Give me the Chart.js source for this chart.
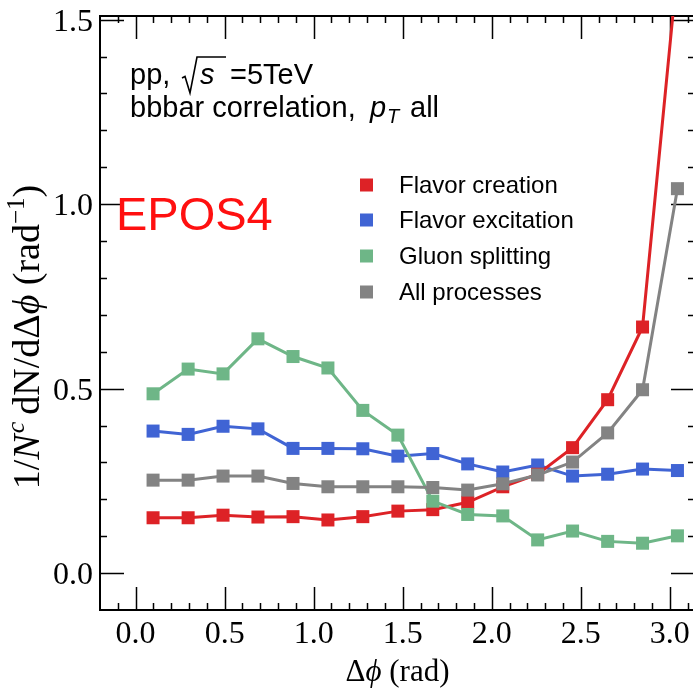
<!DOCTYPE html>
<html lang="en">
<head>
<meta charset="UTF-8">
<title>bbbar correlation, EPOS4</title>
<script src="https://cdn.jsdelivr.net/npm/chart.js"></script>
<style>
  html, body { margin: 0; padding: 0; background: #fff; overflow: hidden; }
  canvas { display: block; }
</style>
</head>
<body>
<canvas id="corrChart" width="697" height="689"></canvas>
<script>
// delta-phi bin centres (rad)
const dphi = [0.098, 0.295, 0.491, 0.687, 0.884, 1.080, 1.276, 1.473,
              1.669, 1.865, 2.062, 2.258, 2.454, 2.651, 2.847, 3.043];

const flavorCreation   = [0.150, 0.150, 0.157, 0.152, 0.153, 0.144, 0.153, 0.168,
                          0.172, 0.192, 0.234, 0.268, 0.340, 0.470, 0.667, 1.640];
const flavorExcitation = [0.385, 0.376, 0.398, 0.391, 0.338, 0.338, 0.337, 0.317,
                          0.324, 0.296, 0.274, 0.293, 0.263, 0.268, 0.282, 0.278];
const gluonSplitting   = [0.486, 0.553, 0.540, 0.635, 0.587, 0.556, 0.441, 0.374,
                          0.195, 0.159, 0.155, 0.090, 0.114, 0.086, 0.081, 0.101];
const allProcesses     = [0.252, 0.252, 0.263, 0.263, 0.243, 0.234, 0.234, 0.234,
                          0.232, 0.225, 0.242, 0.266, 0.301, 0.380, 0.497, 1.042];

const seriesNames = ['Flavor creation', 'Flavor excitation', 'Gluon splitting', 'All processes'];
const seriesColors = ['#dd2226', '#4064d4', '#6eb687', '#838383'];
const seriesValues = [flavorCreation, flavorExcitation, gluonSplitting, allProcesses];
const drawOrder = [2, 3, 1, 0];

const xTickValues = [0, 0.5, 1, 1.5, 2, 2.5, 3];
const xTickLabels = ['0.0', '0.5', '1.0', '1.5', '2.0', '2.5', '3.0'];
const yTickValues = [0, 0.5, 1, 1.5];
const yTickLabels = ['0.0', '0.5', '1.0', '1.5'];

const SERIF = '"Liberation Serif", "DejaVu Serif", serif';
const SANS = '"Liberation Sans", Arial, sans-serif';

// draws consecutive text pieces, returns the x where the run ends
function textRun(ctx, parts, x, y) {
  for (const p of parts) {
    ctx.font = p.font;
    ctx.fillText(p.t, x, y + (p.dy || 0));
    x += ctx.measureText(p.t).width + (p.gap || 0);
  }
  return x;
}
function runWidth(ctx, parts) {
  let w = 0;
  for (const p of parts) { ctx.font = p.font; w += ctx.measureText(p.t).width + (p.gap || 0); }
  return w;
}

// frame with inward ticks on all four sides, plus tick labels
const frameTicks = {
  id: 'frameTicks',
  beforeDatasetsDraw(chart) {
    const { ctx, chartArea: a, scales: { x, y } } = chart;
    ctx.save();
    ctx.strokeStyle = '#000';
    ctx.lineWidth = 1.5;
    ctx.beginPath();
    for (let i = -1; i <= 31; i++) {
      const px = Math.round(x.getPixelForValue(i / 10)) + 0.5;
      const len = i % 5 === 0 ? 23 : 7;
      ctx.moveTo(px, a.bottom); ctx.lineTo(px, a.bottom - len);
      ctx.moveTo(px, a.top); ctx.lineTo(px, a.top + len);
    }
    for (let i = 0; i <= 15; i++) {
      const py = Math.round(y.getPixelForValue(i / 10)) + 0.5;
      const len = i % 5 === 0 ? 24 : 7;
      ctx.moveTo(a.left, py); ctx.lineTo(a.left + len, py);
      ctx.moveTo(a.right, py); ctx.lineTo(a.right - len, py);
    }
    ctx.stroke();
    ctx.lineWidth = 2;
    ctx.strokeRect(a.left, a.top, a.right - a.left, a.bottom - a.top);

    ctx.fillStyle = '#000';
    ctx.font = '32px ' + SERIF;
    ctx.textBaseline = 'alphabetic';
    ctx.textAlign = 'center';
    xTickValues.forEach((v, i) => ctx.fillText(xTickLabels[i], x.getPixelForValue(v), 643));
    ctx.textAlign = 'right';
    yTickValues.forEach((v, i) => ctx.fillText(yTickLabels[i], a.left - 7, y.getPixelForValue(v) + 11));
    ctx.restore();
  }
};

// legend, labels and axis titles
const annotations = {
  id: 'annotations',
  afterDraw(chart) {
    const { ctx, chartArea: a } = chart;
    ctx.save();
    ctx.fillStyle = '#000';
    ctx.strokeStyle = '#000';
    ctx.textBaseline = 'alphabetic';
    ctx.textAlign = 'left';

    // legend
    const rowY = [185, 220, 256, 292];
    chart.data.datasets.forEach((ds, i) => {
      ctx.fillStyle = ds.borderColor;
      ctx.fillRect(360, rowY[i] - 6.5, 13, 13);
      ctx.fillStyle = '#000';
      ctx.font = '24px ' + SANS;
      ctx.fillText(ds.label, 399, rowY[i] + 8);
    });

    // collision system
    const sans = '29px ' + SANS, sansIt = 'italic 29px ' + SANS;
    ctx.font = sans;
    ctx.fillText('pp,', 130, 84);
    ctx.lineWidth = 1.6;
    ctx.beginPath();
    ctx.moveTo(182, 78); ctx.lineTo(185, 76.5); ctx.lineTo(190, 93);
    ctx.lineTo(197, 57); ctx.lineTo(226, 57);
    ctx.stroke();
    ctx.font = sansIt;
    ctx.fillText('s', 200, 84);
    ctx.font = sans;
    ctx.fillText('=5TeV', 230, 84);

    ctx.fillText('bbbar correlation,', 130, 117);
    ctx.font = sansIt;
    ctx.fillText('p', 370, 117);
    ctx.font = 'italic 20px ' + SANS;
    ctx.fillText('T', 387, 123);
    ctx.font = sans;
    ctx.fillText('all', 410, 117);

    // generator tag
    ctx.fillStyle = '#ff1010';
    ctx.font = '47px ' + SANS;
    ctx.fillText('EPOS4', 116, 230);

    // x title
    ctx.fillStyle = '#000';
    const xt = [
      { t: '\u0394', font: '31px ' + SERIF },
      { t: '\u03d5', font: 'italic 31px ' + SERIF },
      { t: ' (rad)', font: '31px ' + SERIF }
    ];
    textRun(ctx, xt, (a.left + a.right) / 2 - runWidth(ctx, xt) / 2, 681);

    // y title
    const yt = [
      { t: '1/', font: '38px ' + SERIF },
      { t: 'N', font: 'italic 38px ' + SERIF, gap: 1 },
      { t: 'c', font: 'italic 26px ' + SERIF, dy: -15, gap: 7 },
      { t: 'dN/d\u0394', font: '38px ' + SERIF },
      { t: '\u03d5', font: 'italic 38px ' + SERIF },
      { t: ' (rad', font: '38px ' + SERIF },
      { t: '\u22121', font: '25px ' + SERIF, dy: -15 },
      { t: ')', font: '38px ' + SERIF }
    ];
    ctx.translate(39, 337);
    ctx.rotate(-Math.PI / 2);
    textRun(ctx, yt, -runWidth(ctx, yt) / 2, 0);
    ctx.restore();
  }
};

new Chart(document.getElementById('corrChart'), {
  type: 'line',
  data: {
    datasets: seriesNames.map((name, i) => ({
      label: name,
      data: dphi.map((x, k) => ({ x, y: seriesValues[i][k] })),
      borderColor: seriesColors[i],
      backgroundColor: seriesColors[i],
      borderWidth: 3,
      pointStyle: 'rect',
      pointRadius: 9.2,
      pointBorderWidth: 0,
      order: drawOrder[i],
      tension: 0
    }))
  },
  options: {
    responsive: false,
    animation: false,
    devicePixelRatio: 1,
    layout: { autoPadding: false, padding: { top: 16, right: 2, left: 0, bottom: 0 } },
    plugins: { legend: { display: false }, tooltip: { enabled: false } },
    scales: {
      x: {
        type: 'linear',
        min: -0.2,
        max: Math.PI,
        afterFit: s => { s.height = 79; },
        grid: { display: false, drawTicks: false },
        border: { display: false },
        ticks: { display: false, stepSize: 0.5 }
      },
      y: {
        min: -0.1,
        max: 1.51,
        afterFit: s => { s.width = 100; },
        grid: { display: false, drawTicks: false },
        border: { display: false },
        ticks: { display: false, stepSize: 0.5 }
      }
    }
  },
  plugins: [frameTicks, annotations]
});
</script>
</body>
</html>
